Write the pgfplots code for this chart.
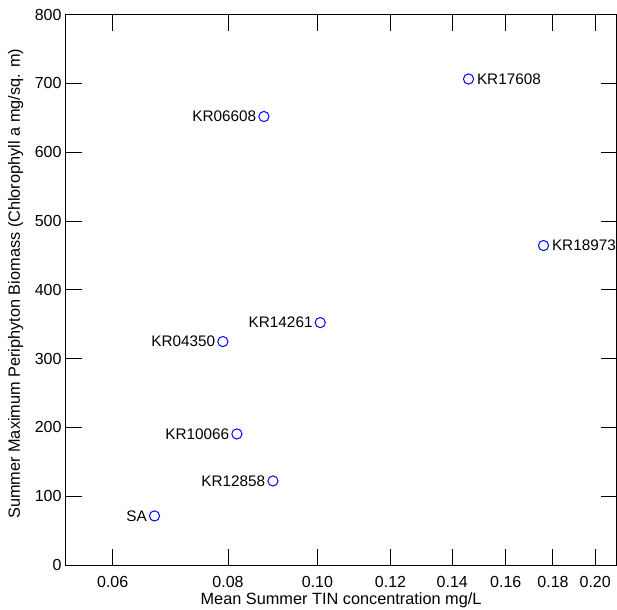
\documentclass[border=0pt]{standalone}
\usepackage{fontspec}
\setmainfont{Liberation Sans}
\usepackage{pgfplots}
\usepackage{pgfplotstable}
\pgfplotsset{compat=1.18}
\pgfplotstableread{
x y label
0.1458 706.5 KR17608
0.1758 464.4 KR18973
}\rightpts
\pgfplotstableread{
x y label
0.0875 652.0 KR06608
0.1007 352.4 KR14261
0.0790 324.8 KR04350
0.0818 190.5 KR10066
0.0895 122.2 KR12858
0.0666 71.3 SA
}\leftpts
\begin{document}
\begin{tikzpicture}
\useasboundingbox (-65.7pt,-44pt) rectangle (551.3pt,565pt);
\begin{axis}[
  at={(0pt,0pt)}, anchor=south west,
  scale only axis, width=550.8pt, height=550.3pt,
  xmode=log, xmin=0.05336, xmax=0.2109, ymin=0, ymax=800,
  xtick={0.06,0.08,0.10,0.12,0.14,0.16,0.18,0.20},
  xticklabels={0.06,0.08,0.10,0.12,0.14,0.16,0.18,0.20},
  ytick={0,100,...,800},
  xminorticks=false, yminorticks=false,
  tick align=inside, major tick length=16pt,
  tick style={black, line width=1pt},
  axis line style={line width=1pt},
  /pgf/number format/assume math mode=true,
  x tick label style={font=\fontsize{16}{19}\selectfont, anchor=base, yshift=-22pt, inner sep=0pt},
  y tick label style={font=\fontsize{16}{19}\selectfont, anchor=east, inner sep=0pt, xshift=-4pt},
  xlabel={Mean Summer TIN concentration mg/L},
  ylabel={Summer Maximum Periphyton Biomass (Chlorophyll a mg/sq. m)},
  xlabel style={font=\fontsize{16.3}{19}\selectfont, at={(axis description cs:0.5,0)}, anchor=base, yshift=-39pt, inner sep=0pt},
  ylabel style={font=\fontsize{16.3}{19}\selectfont, at={([xshift=-45.7pt]axis description cs:0,0.511)}, anchor=base, inner sep=0pt},
]
\addplot[only marks, mark=o, mark size=5.1pt, blue, line width=1pt,
  nodes near coords, point meta=explicit symbolic,
  nodes near coords style={anchor=west, inner sep=0pt, xshift=8pt, text=black, font=\fontsize{15.3}{18}\selectfont}]
  table[x=x, y=y, meta=label] {\rightpts};
\addplot[only marks, mark=o, mark size=5.1pt, blue, line width=1pt,
  nodes near coords, point meta=explicit symbolic,
  nodes near coords style={anchor=east, inner sep=0pt, xshift=-7.2pt, text=black, font=\fontsize{15.3}{18}\selectfont}]
  table[x=x, y=y, meta=label] {\leftpts};
\end{axis}
\end{tikzpicture}
\end{document}
